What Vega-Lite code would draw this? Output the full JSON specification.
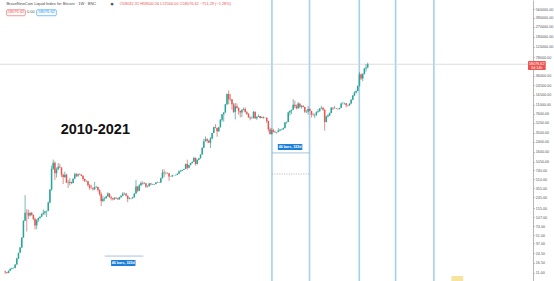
{
"$schema": "https://vega.github.io/schema/vega-lite/v6.json",
"width": 533, "height": 281,
"autosize": {"type": "none"},
"padding": {"left": 0, "top": 0, "right": 21, "bottom": 0},
"background": "white",
"config": {"view": {"stroke": null}, "axisY": {"title": null, "grid": false}},
"datasets": {
"candles": [
{"d":"2012-10-14","o":11.5,"h":12.0,"l":10.5,"c":11.2},
{"d":"2012-10-28","o":11.2,"h":11.3,"l":10.6,"c":10.9},
{"d":"2012-11-11","o":10.9,"h":12.0,"l":10.8,"c":11.9},
{"d":"2012-11-25","o":11.9,"h":13.0,"l":11.8,"c":12.9},
{"d":"2012-12-09","o":12.9,"h":13.6,"l":12.6,"c":13.3},
{"d":"2012-12-23","o":13.3,"h":13.6,"l":13.0,"c":13.4},
{"d":"2013-01-06","o":13.4,"h":15.6,"l":13.2,"c":15.4},
{"d":"2013-01-20","o":15.4,"h":20.4,"l":15.3,"c":19.7},
{"d":"2013-02-03","o":19.7,"h":25.0,"l":19.2,"c":24.9},
{"d":"2013-02-17","o":24.9,"h":31.9,"l":24.8,"c":31.0},
{"d":"2013-03-03","o":31.0,"h":47.0,"l":30.5,"c":46.9},
{"d":"2013-03-17","o":46.9,"h":95,"l":46,"c":93},
{"d":"2013-03-31","o":93,"h":266,"l":91,"c":130},
{"d":"2013-04-14","o":130,"h":150,"l":60,"c":128},
{"d":"2013-04-28","o":128,"h":147,"l":100,"c":115},
{"d":"2013-05-12","o":115,"h":135,"l":111,"c":128},
{"d":"2013-05-26","o":128,"h":134,"l":115,"c":118},
{"d":"2013-06-09","o":118,"h":120,"l":95,"c":100},
{"d":"2013-06-23","o":100,"h":106,"l":65,"c":77},
{"d":"2013-07-07","o":77,"h":100,"l":66,"c":95},
{"d":"2013-07-21","o":95,"h":106,"l":88,"c":104},
{"d":"2013-08-04","o":104,"h":112,"l":100,"c":110},
{"d":"2013-08-18","o":110,"h":125,"l":108,"c":124},
{"d":"2013-09-01","o":124,"h":148,"l":118,"c":130},
{"d":"2013-09-15","o":130,"h":141,"l":118,"c":138},
{"d":"2013-09-29","o":138,"h":141,"l":108,"c":140},
{"d":"2013-10-13","o":140,"h":205,"l":138,"c":198},
{"d":"2013-10-27","o":198,"h":340,"l":190,"c":335},
{"d":"2013-11-10","o":335,"h":900,"l":320,"c":790},
{"d":"2013-11-24","o":790,"h":1150,"l":750,"c":1010},
{"d":"2013-12-08","o":1010,"h":1070,"l":500,"c":660},
{"d":"2013-12-22","o":660,"h":830,"l":550,"c":770},
{"d":"2014-01-05","o":770,"h":1000,"l":760,"c":860},
{"d":"2014-01-19","o":860,"h":970,"l":820,"c":830},
{"d":"2014-02-02","o":830,"h":840,"l":560,"c":620},
{"d":"2014-02-16","o":620,"h":650,"l":420,"c":560},
{"d":"2014-03-02","o":560,"h":700,"l":540,"c":620},
{"d":"2014-03-16","o":620,"h":640,"l":440,"c":450},
{"d":"2014-03-30","o":450,"h":500,"l":360,"c":440},
{"d":"2014-04-13","o":440,"h":540,"l":400,"c":460},
{"d":"2014-04-27","o":460,"h":465,"l":420,"c":440},
{"d":"2014-05-11","o":440,"h":530,"l":430,"c":525},
{"d":"2014-05-25","o":525,"h":670,"l":520,"c":630},
{"d":"2014-06-08","o":630,"h":665,"l":560,"c":590},
{"d":"2014-06-22","o":590,"h":650,"l":560,"c":630},
{"d":"2014-07-06","o":630,"h":650,"l":610,"c":620},
{"d":"2014-07-20","o":620,"h":630,"l":580,"c":590},
{"d":"2014-08-03","o":590,"h":600,"l":480,"c":520},
{"d":"2014-08-17","o":520,"h":525,"l":460,"c":480},
{"d":"2014-08-31","o":480,"h":490,"l":460,"c":475},
{"d":"2014-09-14","o":475,"h":480,"l":380,"c":400},
{"d":"2014-09-28","o":400,"h":420,"l":330,"c":360},
{"d":"2014-10-12","o":360,"h":410,"l":350,"c":355},
{"d":"2014-10-26","o":355,"h":370,"l":320,"c":340},
{"d":"2014-11-09","o":340,"h":460,"l":330,"c":370},
{"d":"2014-11-23","o":370,"h":390,"l":360,"c":375},
{"d":"2014-12-07","o":375,"h":380,"l":310,"c":330},
{"d":"2014-12-21","o":330,"h":340,"l":260,"c":280},
{"d":"2015-01-04","o":280,"h":300,"l":170,"c":210},
{"d":"2015-01-18","o":210,"h":260,"l":200,"c":230},
{"d":"2015-02-01","o":230,"h":245,"l":210,"c":235},
{"d":"2015-02-15","o":235,"h":260,"l":230,"c":255},
{"d":"2015-03-01","o":255,"h":300,"l":250,"c":285},
{"d":"2015-03-15","o":285,"h":290,"l":240,"c":245},
{"d":"2015-03-29","o":245,"h":260,"l":215,"c":235},
{"d":"2015-04-12","o":235,"h":240,"l":215,"c":225},
{"d":"2015-04-26","o":225,"h":245,"l":220,"c":240},
{"d":"2015-05-10","o":240,"h":245,"l":228,"c":235},
{"d":"2015-05-24","o":235,"h":240,"l":220,"c":225},
{"d":"2015-06-07","o":225,"h":250,"l":222,"c":245},
{"d":"2015-06-21","o":245,"h":265,"l":240,"c":260},
{"d":"2015-07-05","o":260,"h":300,"l":255,"c":285},
{"d":"2015-07-19","o":285,"h":300,"l":270,"c":285},
{"d":"2015-08-02","o":285,"h":290,"l":255,"c":260},
{"d":"2015-08-16","o":260,"h":265,"l":200,"c":230},
{"d":"2015-08-30","o":230,"h":245,"l":225,"c":235},
{"d":"2015-09-13","o":235,"h":240,"l":225,"c":235},
{"d":"2015-09-27","o":235,"h":250,"l":230,"c":245},
{"d":"2015-10-11","o":245,"h":290,"l":240,"c":285},
{"d":"2015-10-25","o":285,"h":500,"l":280,"c":380},
{"d":"2015-11-08","o":380,"h":390,"l":300,"c":320},
{"d":"2015-11-22","o":320,"h":420,"l":315,"c":400},
{"d":"2015-12-06","o":400,"h":470,"l":385,"c":440},
{"d":"2015-12-20","o":440,"h":470,"l":410,"c":430},
{"d":"2016-01-03","o":430,"h":460,"l":420,"c":435},
{"d":"2016-01-17","o":435,"h":440,"l":360,"c":380},
{"d":"2016-01-31","o":380,"h":400,"l":365,"c":385},
{"d":"2016-02-14","o":385,"h":445,"l":380,"c":430},
{"d":"2016-02-28","o":430,"h":440,"l":400,"c":415},
{"d":"2016-03-13","o":415,"h":425,"l":405,"c":415},
{"d":"2016-03-27","o":415,"h":425,"l":410,"c":420},
{"d":"2016-04-10","o":420,"h":455,"l":415,"c":450},
{"d":"2016-04-24","o":450,"h":465,"l":440,"c":455},
{"d":"2016-05-08","o":455,"h":460,"l":440,"c":450},
{"d":"2016-05-22","o":450,"h":550,"l":440,"c":535},
{"d":"2016-06-05","o":535,"h":770,"l":530,"c":680},
{"d":"2016-06-19","o":680,"h":770,"l":560,"c":660},
{"d":"2016-07-03","o":660,"h":700,"l":620,"c":660},
{"d":"2016-07-17","o":660,"h":680,"l":640,"c":655},
{"d":"2016-07-31","o":655,"h":660,"l":480,"c":575},
{"d":"2016-08-14","o":575,"h":590,"l":565,"c":575},
{"d":"2016-08-28","o":575,"h":615,"l":570,"c":605},
{"d":"2016-09-11","o":605,"h":610,"l":595,"c":605},
{"d":"2016-09-25","o":605,"h":620,"l":600,"c":615},
{"d":"2016-10-09","o":615,"h":650,"l":610,"c":645},
{"d":"2016-10-23","o":645,"h":740,"l":640,"c":705},
{"d":"2016-11-06","o":705,"h":750,"l":690,"c":730},
{"d":"2016-11-20","o":730,"h":760,"l":720,"c":755},
{"d":"2016-12-04","o":755,"h":790,"l":750,"c":785},
{"d":"2016-12-18","o":785,"h":980,"l":780,"c":960},
{"d":"2017-01-01","o":960,"h":1150,"l":760,"c":820},
{"d":"2017-01-15","o":820,"h":930,"l":800,"c":920},
{"d":"2017-01-29","o":920,"h":1010,"l":910,"c":1000},
{"d":"2017-02-12","o":1000,"h":1060,"l":980,"c":1055},
{"d":"2017-02-26","o":1055,"h":1300,"l":1050,"c":1230},
{"d":"2017-03-12","o":1230,"h":1260,"l":900,"c":960},
{"d":"2017-03-26","o":960,"h":1150,"l":940,"c":1140},
{"d":"2017-04-09","o":1140,"h":1230,"l":1120,"c":1220},
{"d":"2017-04-23","o":1220,"h":1430,"l":1200,"c":1420},
{"d":"2017-05-07","o":1420,"h":1900,"l":1410,"c":1880},
{"d":"2017-05-21","o":1880,"h":2700,"l":1850,"c":2450},
{"d":"2017-06-04","o":2450,"h":2980,"l":2440,"c":2650},
{"d":"2017-06-18","o":2650,"h":2790,"l":2300,"c":2500},
{"d":"2017-07-02","o":2500,"h":2600,"l":2300,"c":2300},
{"d":"2017-07-16","o":2300,"h":2900,"l":1850,"c":2750},
{"d":"2017-07-30","o":2750,"h":3480,"l":2650,"c":3450},
{"d":"2017-08-13","o":3450,"h":4480,"l":3450,"c":4350},
{"d":"2017-08-27","o":4350,"h":4950,"l":4200,"c":4200},
{"d":"2017-09-10","o":4200,"h":4300,"l":2950,"c":3700},
{"d":"2017-09-24","o":3700,"h":4400,"l":3600,"c":4350},
{"d":"2017-10-08","o":4350,"h":6100,"l":4300,"c":5950},
{"d":"2017-10-22","o":5950,"h":7500,"l":5500,"c":7400},
{"d":"2017-11-05","o":7400,"h":8100,"l":5500,"c":8000},
{"d":"2017-11-19","o":8000,"h":11400,"l":7900,"c":11200},
{"d":"2017-12-03","o":11200,"h":17400,"l":10800,"c":17000},
{"d":"2017-12-17","o":17000,"h":19800,"l":11200,"c":13800},
{"d":"2017-12-31","o":13800,"h":17200,"l":12800,"c":13600},
{"d":"2018-01-14","o":13600,"h":14000,"l":9000,"c":11200},
{"d":"2018-01-28","o":11200,"h":11800,"l":7800,"c":8200},
{"d":"2018-02-11","o":8200,"h":11800,"l":6000,"c":10300},
{"d":"2018-02-25","o":10300,"h":11600,"l":9400,"c":9600},
{"d":"2018-03-11","o":9600,"h":9900,"l":7300,"c":8500},
{"d":"2018-03-25","o":8500,"h":8700,"l":6500,"c":8000},
{"d":"2018-04-08","o":8000,"h":9000,"l":6600,"c":8900},
{"d":"2018-04-22","o":8900,"h":9750,"l":8700,"c":9200},
{"d":"2018-05-06","o":9200,"h":9900,"l":8000,"c":8100},
{"d":"2018-05-20","o":8100,"h":8500,"l":7200,"c":7500},
{"d":"2018-06-03","o":7500,"h":7800,"l":6500,"c":6500},
{"d":"2018-06-17","o":6500,"h":6800,"l":5800,"c":6300},
{"d":"2018-07-01","o":6300,"h":6800,"l":6100,"c":6300},
{"d":"2018-07-15","o":6300,"h":8450,"l":6300,"c":8200},
{"d":"2018-07-29","o":8200,"h":8300,"l":6100,"c":6300},
{"d":"2018-08-12","o":6300,"h":6800,"l":5900,"c":6700},
{"d":"2018-08-26","o":6700,"h":7400,"l":6600,"c":6900},
{"d":"2018-09-09","o":6900,"h":6950,"l":6200,"c":6400},
{"d":"2018-09-23","o":6400,"h":6800,"l":6350,"c":6600},
{"d":"2018-10-07","o":6600,"h":6800,"l":6200,"c":6400},
{"d":"2018-10-21","o":6400,"h":6550,"l":6300,"c":6400},
{"d":"2018-11-04","o":6400,"h":6550,"l":5200,"c":5600},
{"d":"2018-11-18","o":5600,"h":5700,"l":3650,"c":4000},
{"d":"2018-12-02","o":4000,"h":4300,"l":3200,"c":3300},
{"d":"2018-12-16","o":3300,"h":4200,"l":3200,"c":3850},
{"d":"2018-12-30","o":3850,"h":4100,"l":3500,"c":3600},
{"d":"2019-01-13","o":3600,"h":3800,"l":3450,"c":3550},
{"d":"2019-01-27","o":3550,"h":3600,"l":3350,"c":3600},
{"d":"2019-02-10","o":3600,"h":4200,"l":3550,"c":3800},
{"d":"2019-02-24","o":3800,"h":4000,"l":3650,"c":3950},
{"d":"2019-03-10","o":3950,"h":4050,"l":3850,"c":4000},
{"d":"2019-03-24","o":4000,"h":4300,"l":3900,"c":4200},
{"d":"2019-04-07","o":4200,"h":5400,"l":4150,"c":5300},
{"d":"2019-04-21","o":5300,"h":5500,"l":5050,"c":5400},
{"d":"2019-05-05","o":5400,"h":8300,"l":5400,"c":8000},
{"d":"2019-05-19","o":8000,"h":8700,"l":7000,"c":8600},
{"d":"2019-06-02","o":8600,"h":9000,"l":7500,"c":8900},
{"d":"2019-06-16","o":8900,"h":13800,"l":8850,"c":11000},
{"d":"2019-06-30","o":11000,"h":13000,"l":9500,"c":10300},
{"d":"2019-07-14","o":10300,"h":11100,"l":9100,"c":9500},
{"d":"2019-07-28","o":9500,"h":12300,"l":9300,"c":11500},
{"d":"2019-08-11","o":11500,"h":11500,"l":9500,"c":10100},
{"d":"2019-08-25","o":10100,"h":10900,"l":9400,"c":10400},
{"d":"2019-09-08","o":10400,"h":10900,"l":9900,"c":10000},
{"d":"2019-09-22","o":10000,"h":10100,"l":7800,"c":8200},
{"d":"2019-10-06","o":8200,"h":8800,"l":7800,"c":8200},
{"d":"2019-10-20","o":8200,"h":10500,"l":7300,"c":9200},
{"d":"2019-11-03","o":9200,"h":9500,"l":8500,"c":8500},
{"d":"2019-11-17","o":8500,"h":8600,"l":6500,"c":7300},
{"d":"2019-12-01","o":7300,"h":7900,"l":7100,"c":7100},
{"d":"2019-12-15","o":7100,"h":7600,"l":6400,"c":7300},
{"d":"2019-12-29","o":7300,"h":8400,"l":6900,"c":8100},
{"d":"2020-01-12","o":8100,"h":9200,"l":8000,"c":8400},
{"d":"2020-01-26","o":8400,"h":9600,"l":8300,"c":9400},
{"d":"2020-02-09","o":9400,"h":10500,"l":9400,"c":9700},
{"d":"2020-02-23","o":9700,"h":9950,"l":8500,"c":8900},
{"d":"2020-03-08","o":8900,"h":9200,"l":3800,"c":5400},
{"d":"2020-03-22","o":5400,"h":7000,"l":5300,"c":6800},
{"d":"2020-04-05","o":6800,"h":7500,"l":6500,"c":7100},
{"d":"2020-04-19","o":7100,"h":8000,"l":6900,"c":7800},
{"d":"2020-05-03","o":7800,"h":10000,"l":7800,"c":9700},
{"d":"2020-05-17","o":9700,"h":9900,"l":8800,"c":9450},
{"d":"2020-05-31","o":9450,"h":10400,"l":9300,"c":9450},
{"d":"2020-06-14","o":9450,"h":9700,"l":9200,"c":9300},
{"d":"2020-06-28","o":9300,"h":9400,"l":8900,"c":9250},
{"d":"2020-07-12","o":9250,"h":9400,"l":9000,"c":9700},
{"d":"2020-07-26","o":9700,"h":12000,"l":9600,"c":11600},
{"d":"2020-08-09","o":11600,"h":12400,"l":11100,"c":11600},
{"d":"2020-08-23","o":11600,"h":12000,"l":11100,"c":11700},
{"d":"2020-09-06","o":11700,"h":11700,"l":9900,"c":10800},
{"d":"2020-09-20","o":10800,"h":11000,"l":10200,"c":10700},
{"d":"2020-10-04","o":10700,"h":11700,"l":10500,"c":11500},
{"d":"2020-10-18","o":11500,"h":13800,"l":11200,"c":13500},
{"d":"2020-11-01","o":13500,"h":16300,"l":13200,"c":16000},
{"d":"2020-11-15","o":16000,"h":19000,"l":15700,"c":18200},
{"d":"2020-11-29","o":18200,"h":19900,"l":17500,"c":19400},
{"d":"2020-12-13","o":19400,"h":24300,"l":19000,"c":23700},
{"d":"2020-12-27","o":23700,"h":41900,"l":23400,"c":38000},
{"d":"2021-01-10","o":38000,"h":40000,"l":30300,"c":32300},
{"d":"2021-01-24","o":32300,"h":40000,"l":29000,"c":38900},
{"d":"2021-02-07","o":38900,"h":50000,"l":38000,"c":48600},
{"d":"2021-02-21","o":48600,"h":58300,"l":43000,"c":51000},
{"d":"2021-03-07","o":51000,"h":61800,"l":49000,"c":58076.62}
]
},
"layer": [
{"data": {"values": [{"d":"2018-12-18"},{"d":"2019-11-01"},{"d":"2020-12-26"},{"d":"2021-10-29"},{"d":"2022-09-18"}]},
 "mark": {"type": "rule", "color": "#a3d0ec", "strokeWidth": 1.6},
 "encoding": {"x": {"field": "d", "type": "temporal", "axis": null, "scale": {"type": "utc", "domain": [{"year":2012,"month":10,"date":12,"utc":true},{"year":2024,"month":11,"date":22,"utc":true}]}}}},
{"data": {"values": [{"p":58076.62}]},
 "mark": {"type": "rule", "color": "#d4d4d4", "strokeWidth": 0.8},
 "encoding": {"y": {"field": "p", "type": "quantitative",
   "scale": {"type": "log", "domain": [7.82, 815000], "nice": false},
   "axis": {"orient": "right", "title": null, "grid": false, "format": ".2f", "labelOverlap": false, "labelBound": false, "labelFlush": false,
                 "values": [560000,390000,270000,180000,120000,78000,36000,24500,16500,11000,7600,5200,3500,2400,1600,1050,740,510,355,245,155,107,74,51,37,24.5,16.5,11],
                 "labelFont": "Liberation Sans", "labelFontSize": 3.7, "labelColor": "#555", "labelPadding": 0.8,
                 "tickSize": 1.5, "tickColor": "#999", "tickWidth": 0.6, "domainColor": "#999", "domainWidth": 0.7}}}},
{"data": {"values": [{"d":"2018-12-18","d2":"2019-11-01","p":637}]},
 "mark": {"type": "rule", "color": "#b0b0b0", "strokeWidth": 0.8, "strokeDash": [1.2, 1.2]},
 "encoding": {"x": {"field": "d", "type": "temporal", "axis": null}, "x2": {"field": "d2"}, "y": {"field": "p", "type": "quantitative"}}},
{"data": {"values": [{"d":"2015-02-01","d2":"2015-12-26","p":21.8},{"d":"2018-12-18","d2":"2019-11-01","p":1515}]},
 "mark": {"type": "rule", "color": "#8fb4d6", "strokeWidth": 0.8},
 "encoding": {"x": {"field": "d", "type": "temporal", "axis": null}, "x2": {"field": "d2"}, "y": {"field": "p", "type": "quantitative"}}},
{"data": {"name": "candles"},
 "mark": {"type": "rule", "strokeWidth": 0.6},
 "encoding": {
  "x": {"field": "d", "type": "temporal", "axis": null},
  "y": {"field": "l", "type": "quantitative"},
  "y2": {"field": "h"},
  "color": {"condition": {"test": "datum.c >= datum.o", "value": "#1f8a7f"}, "value": "#c94744"}}},
{"data": {"name": "candles"},
 "mark": {"type": "bar", "width": 1.5},
 "encoding": {
  "x": {"field": "d", "type": "temporal", "axis": null},
  "y": {"field": "o", "type": "quantitative"},
  "y2": {"field": "c"},
  "color": {"condition": {"test": "datum.c >= datum.o", "value": "#26a69a"}, "value": "#ef5350"}}},
{"data": {"values": [{"d":"2015-03-28","d2":"2015-10-21","p":18.5,"p2":14.5},{"d":"2019-02-06","d2":"2019-09-01","p":2190,"p2":1706}]},
 "mark": {"type": "rect", "color": "#1e7fd8", "cornerRadius": 0.5},
 "encoding": {"x": {"field": "d", "type": "temporal", "axis": null}, "x2": {"field": "d2"}, "y": {"field": "p", "type": "quantitative"}, "y2": {"field": "p2"}}},
{"data": {"values": [{"d":"2015-07-09","p":16.4,"t":"46 bars, 322d"},{"d":"2019-05-20","p":1930,"t":"46 bars, 322d"}]},
 "mark": {"type": "text", "color": "white", "font": "Liberation Sans", "fontSize": 3.6, "fontWeight": "bold", "align": "center", "baseline": "middle"},
 "encoding": {"x": {"field": "d", "type": "temporal", "axis": null}, "y": {"field": "p", "type": "quantitative"}, "text": {"field": "t"}}},
{"data": {"values": [{"d":"2023-02-13","d2":"2023-05-24","p":9.6,"p2":7.82}]},
 "mark": {"type": "rect", "color": "#f6e49e"},
 "encoding": {"x": {"field": "d", "type": "temporal", "axis": null}, "x2": {"field": "d2"}, "y": {"field": "p", "type": "quantitative"}, "y2": {"field": "p2"}}},
{"data": {"values": [{"d":"2014-11-15","p":3882,"t":"2010-2021"}]},
 "mark": {"type": "text", "color": "#111", "font": "Liberation Sans", "fontSize": 14.5, "fontWeight": "bold", "align": "center", "baseline": "middle"},
 "encoding": {"x": {"field": "d", "type": "temporal", "axis": null}, "y": {"field": "p", "type": "quantitative"}, "text": {"field": "t"}}},
{"data": {"values": [{"d":"2012-10-24","p":682000,"t":"BraveNewCoin Liquid Index for Bitcoin · 1W · BNC"}]},
 "mark": {"type": "text", "color": "#4a4a4a", "font": "Liberation Sans", "fontSize": 4, "align": "left", "baseline": "middle"},
 "encoding": {"x": {"field": "d", "type": "temporal", "axis": null}, "y": {"field": "p", "type": "quantitative"}, "text": {"field": "t"}}},
{"data": {"values": [{"d":"2015-04-05","p":682000,"t":"●"}]},
 "mark": {"type": "text", "color": "#555", "font": "DejaVu Sans", "fontSize": 3.5, "align": "center", "baseline": "middle"},
 "encoding": {"x": {"field": "d", "type": "temporal", "axis": null}, "y": {"field": "p", "type": "quantitative"}, "text": {"field": "t"}}},
{"data": {"values": [{"d":"2015-06-10","p":682000,"t":"O58032.31 H59600.56 L57000.00 C58076.62 −751.29 (−1.28%)"}]},
 "mark": {"type": "text", "color": "#ef5350", "font": "Liberation Sans", "fontSize": 3.9, "align": "left", "baseline": "middle"},
 "encoding": {"x": {"field": "d", "type": "temporal", "axis": null}, "y": {"field": "p", "type": "quantitative"}, "text": {"field": "t"}}},
{"data": {"values": [{"d":"2012-10-26","d2":"2013-04-02","p":546000,"p2":427000}]},
 "mark": {"type": "rect", "fill": "white", "stroke": "#ef5350", "strokeWidth": 0.6, "cornerRadius": 1},
 "encoding": {"x": {"field": "d", "type": "temporal", "axis": null}, "x2": {"field": "d2"}, "y": {"field": "p", "type": "quantitative"}, "y2": {"field": "p2"}}},
{"data": {"values": [{"d":"2013-07-07","d2":"2013-12-20","p":546000,"p2":427000}]},
 "mark": {"type": "rect", "fill": "white", "stroke": "#2196f3", "strokeWidth": 0.6, "cornerRadius": 1},
 "encoding": {"x": {"field": "d", "type": "temporal", "axis": null}, "x2": {"field": "d2"}, "y": {"field": "p", "type": "quantitative"}, "y2": {"field": "p2"}}},
{"data": {"values": [{"d":"2013-01-13","p":491000,"t":"58076.62"}]},
 "mark": {"type": "text", "color": "#ef5350", "font": "Liberation Sans", "fontSize": 4, "align": "center", "baseline": "middle"},
 "encoding": {"x": {"field": "d", "type": "temporal", "axis": null}, "y": {"field": "p", "type": "quantitative"}, "text": {"field": "t"}}},
{"data": {"values": [{"d":"2013-05-18","p":491000,"t":"0.00"}]},
 "mark": {"type": "text", "color": "#555", "font": "Liberation Sans", "fontSize": 4, "align": "center", "baseline": "middle"},
 "encoding": {"x": {"field": "d", "type": "temporal", "axis": null}, "y": {"field": "p", "type": "quantitative"}, "text": {"field": "t"}}},
{"data": {"values": [{"d":"2013-09-28","p":491000,"t":"58076.62"}]},
 "mark": {"type": "text", "color": "#2196f3", "font": "Liberation Sans", "fontSize": 4, "align": "center", "baseline": "middle"},
 "encoding": {"x": {"field": "d", "type": "temporal", "axis": null}, "y": {"field": "p", "type": "quantitative"}, "text": {"field": "t"}}},
{"data": {"values": [{"d":"2024-11-22","d2":"2025-04-21","p":66200,"p2":45800}]},
 "mark": {"type": "rect", "color": "#ef5350", "cornerRadius": 0.5},
 "encoding": {"x": {"field": "d", "type": "temporal", "axis": null}, "x2": {"field": "d2"}, "y": {"field": "p", "type": "quantitative"}, "y2": {"field": "p2"}}},
{"data": {"values": [{"d":"2025-02-04","p":59800,"t":"58076.62"},{"d":"2025-02-04","p":49700,"t":"3d 14h"}]},
 "mark": {"type": "text", "color": "white", "font": "Liberation Sans", "fontSize": 3.7, "align": "center", "baseline": "middle"},
 "encoding": {"x": {"field": "d", "type": "temporal", "axis": null}, "y": {"field": "p", "type": "quantitative"}, "text": {"field": "t"}}}
]
}
